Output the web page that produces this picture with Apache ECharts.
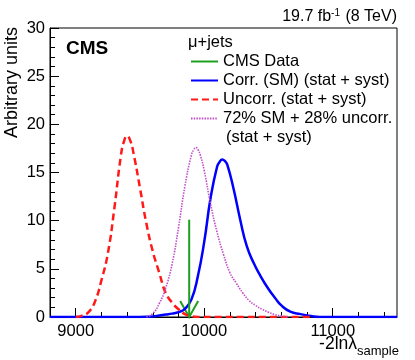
<!DOCTYPE html>
<html>
<head>
<meta charset="utf-8">
<script src="https://cdn.jsdelivr.net/npm/echarts@6/dist/echarts.min.js"></script>
<style>
  html, body { margin: 0; padding: 0; background: #fff; }
  #chart { width: 415px; height: 360px; }
</style>
</head>
<body>
<div id="chart"></div>
<script>
// curves: [-2ln(lambda), arbitrary units]
var corrCurve = [[8800, 0], [9500, 0], [9600, 0.05], [9650, 0.15], [9700, 0.25], [9750, 0.35],
  [9800, 0.5], [9850, 0.85], [9900, 1.8], [9950, 4.2], [10000, 7.8], [10050, 12.4],
  [10100, 15.6], [10120, 16.1], [10140, 16.35], [10160, 16.2], [10180, 15.8], [10230, 13.2],
  [10280, 10.1], [10330, 7.4], [10385, 5.6], [10440, 4.2], [10500, 2.9], [10550, 2.0],
  [10600, 1.2], [10670, 0.55], [10750, 0.3], [10830, 0.1], [10900, 0], [11500, 0]];
var uncorrCurve = [[9000, 0], [9050, 0.15], [9100, 0.5], [9150, 1.6], [9200, 3.8], [9250, 6.6],
  [9300, 11.2], [9350, 16.6], [9375, 18.2], [9400, 18.8], [9425, 18.3], [9450, 17.0],
  [9500, 13.4], [9550, 9.7], [9600, 6.8], [9650, 4.6], [9700, 2.5], [9750, 1.5],
  [9800, 0.8], [9850, 0.3], [9900, 0.08], [9950, 0], [10830, 0]];
var mixCurve = [[9550, 0], [9600, 0.35], [9650, 1.4], [9700, 3.0], [9750, 5.5], [9800, 9.3],
  [9850, 13.6], [9900, 16.8], [9920, 17.4], [9935, 17.6], [9950, 17.4], [9970, 16.8],
  [10000, 15.2], [10050, 11.7], [10100, 8.8], [10150, 6.5], [10200, 4.6], [10250, 3.5],
  [10300, 2.5], [10350, 1.7], [10400, 1.2], [10450, 0.8], [10500, 0.5], [10550, 0.25],
  [10600, 0.1], [10650, 0]];
var dataValue = 9883;
var dataArrowTop = 10.1;

var xMajorTicks = [9000, 10000, 11000];
var xMinorTicks = [8800, 9000, 9200, 9400, 9600, 9800, 10000, 10200, 10400, 10600, 10800, 11000, 11200, 11400];

var legendNames = ['CMS Data', 'Corr. (SM) (stat + syst)', 'Uncorr. (stat + syst)', '72% SM + 28% uncorr.'];

var font = 'Liberation Sans, Arial, Helvetica, sans-serif';
var green = '#1f9f1f';

var chart = echarts.init(document.getElementById('chart'), null, { renderer: 'canvas' });

var option = {
  animation: false,
  textStyle: { fontFamily: font },
  grid: {
    left: 50, right: 18, top: 28, bottom: 43,
    show: true, borderColor: '#000', borderWidth: 1
  },
  xAxis: [
    {
      type: 'value', min: 8800, max: 11500,
      axisLine: { lineStyle: { color: '#000', width: 1 } },
      axisTick: { inside: true, length: 9, customValues: xMajorTicks, lineStyle: { color: '#000' } },
      axisLabel: {
        customValues: xMajorTicks, color: '#000', fontSize: 16.5, margin: 6, fontFamily: font,
        formatter: function (v) { return String(v); }
      },
      splitLine: { show: false }
    },
    {
      type: 'value', min: 8800, max: 11500, position: 'bottom',
      axisLine: { show: false },
      axisTick: { inside: true, length: 5, customValues: xMinorTicks, lineStyle: { color: '#000' } },
      axisLabel: { show: false },
      splitLine: { show: false }
    }
  ],
  yAxis: {
    type: 'value', min: 0, max: 30, interval: 5,
    axisLine: { show: true, lineStyle: { color: '#000', width: 1 } },
    axisTick: { inside: true, length: 9, lineStyle: { color: '#000' } },
    minorTick: { show: true, splitNumber: 5, length: 5, lineStyle: { color: '#000' } },
    axisLabel: { color: '#000', fontSize: 16.5, margin: 5, fontFamily: font },
    splitLine: { show: false }
  },
  legend: {
    data: legendNames,
    orient: 'vertical',
    left: 190, top: 52, padding: 0,
    itemWidth: 27, itemHeight: 14, itemGap: 0,
    itemStyle: { opacity: 0 },
    textStyle: { fontSize: 16.5, color: '#000', lineHeight: 19, fontFamily: font },
    inactiveColor: '#000'
  },
  graphic: [
    {
      type: 'text', x: 397, y: 17,
      style: {
        text: '{m|19.7 fb}{s|-1}{m| (8 TeV)}',
        textAlign: 'right', textVerticalAlign: 'middle',
        rich: {
          m: { fontSize: 16, fontFamily: font, fill: '#000' },
          s: { fontSize: 10, fontFamily: font, fill: '#000', verticalAlign: 'top', padding: [0, 1, 8, 0] }
        }
      }
    },
    {
      type: 'text', x: 66, y: 49,
      style: { text: 'CMS', font: 'bold 19px ' + font, fill: '#000', textVerticalAlign: 'middle' }
    },
    {
      type: 'text', x: 188, y: 42,
      style: { text: 'μ+jets', font: '16.5px ' + font, fill: '#000', textVerticalAlign: 'middle' }
    },
    {
      type: 'text', x: 226, y: 137,
      style: { text: '(stat + syst)', font: '16.5px ' + font, fill: '#000', textVerticalAlign: 'middle' }
    },
    {
      type: 'text', x: 12, y: 27, rotation: Math.PI / 2,
      style: { text: 'Arbitrary units', font: '18px ' + font, fill: '#000', textAlign: 'right', textVerticalAlign: 'middle' }
    },
    {
      type: 'text', x: 357, y: 344,
      style: { text: '-2lnλ', font: '17.5px ' + font, fill: '#000', textAlign: 'right', textVerticalAlign: 'middle' }
    },
    {
      type: 'text', x: 357, y: 351,
      style: { text: 'sample', font: '13px ' + font, fill: '#000', textAlign: 'left', textVerticalAlign: 'middle' }
    }
  ],
  series: [
    {
      name: 'Corr. (SM) (stat + syst)', type: 'line', data: corrCurve,
      showSymbol: false, symbol: 'none', smooth: 0.5,
      lineStyle: { color: '#0000ff', width: 2.5 }, itemStyle: { color: '#0000ff' }
    },
    {
      name: 'Uncorr. (stat + syst)', type: 'line', data: uncorrCurve,
      showSymbol: false, symbol: 'none', smooth: 0.5,
      lineStyle: { color: '#ff1a1a', width: 2.5, type: [7, 4] }, itemStyle: { color: '#ff1a1a' }
    },
    {
      name: '72% SM + 28% uncorr.', type: 'line', data: mixCurve,
      showSymbol: false, symbol: 'none', smooth: 0.5,
      lineStyle: { color: '#c24fc8', width: 1.6, type: [1.5, 1.2] }, itemStyle: { color: '#c24fc8' }
    },
    {
      name: 'CMS Data', type: 'line', data: [[dataValue, dataArrowTop], [dataValue, 0]],
      showSymbol: false, symbol: 'none',
      lineStyle: { color: green, width: 2 }, itemStyle: { color: green }
    },
    {
      type: 'custom', data: [[dataValue, 0]], silent: true,
      renderItem: function (params, api) {
        var tip = api.coord([api.value(0), api.value(1)]);
        return {
          type: 'polyline',
          shape: { points: [[tip[0] - 9, tip[1] - 16], [tip[0], tip[1]], [tip[0] + 9, tip[1] - 16]] },
          style: { stroke: green, lineWidth: 2, fill: null }
        };
      }
    }
  ]
};

chart.setOption(option);
</script>
</body>
</html>
